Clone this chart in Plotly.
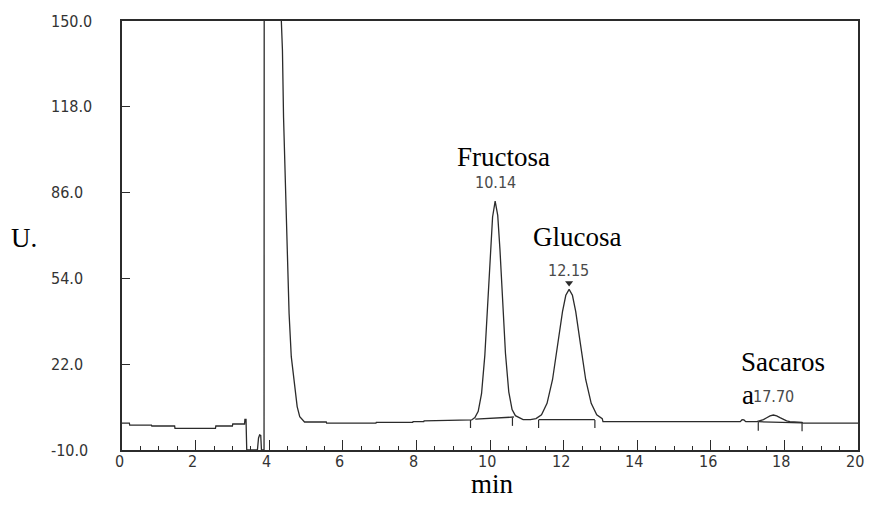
import plotly.graph_objects as go

# Chromatogram signal (retention time in min, detector response in U.)
time_min = [
    0.00, 0.20, 0.21, 0.80, 0.81, 1.43, 1.44, 2.54, 2.55, 3.00, 3.01, 3.33, 3.34, 3.37, 3.39,
    3.68, 3.71, 3.74, 3.77, 3.79, 3.86, 3.87, 4.10, 4.31, 4.33, 4.36, 4.39, 4.44, 4.48, 4.51,
    4.54, 4.60, 4.67, 4.71, 4.76, 4.83, 4.91, 4.96, 5.55, 5.56, 6.90, 6.91, 7.90, 7.91, 8.20,
    8.21, 9.50,
    9.59, 9.68, 9.77, 9.86, 9.95, 10.01, 10.07, 10.14, 10.21, 10.27, 10.33, 10.42, 10.51,
    10.60, 10.69, 10.80, 10.90,
    11.10, 11.25, 11.40, 11.55, 11.70, 11.85, 11.97, 12.06, 12.15, 12.24, 12.33, 12.45, 12.60,
    12.75, 12.90, 13.05, 13.07,
    16.80, 16.85, 16.90, 16.95,
    17.25, 17.34, 17.43, 17.52, 17.61, 17.70, 17.79, 17.88, 17.97, 18.06, 18.15, 18.48, 18.50,
    20.00,
]
signal_u = [
    0.0, 0.0, -0.7, -0.7, -1.05, -1.05, -1.9, -1.9, -1.05, -1.05, -0.3, -0.3, 1.4, 1.4, -10.0,
    -10.0, -5.5, -4.4, -4.6, -10.0, -10.0, 400.0, 600.0, 300.0, 150.0, 139.0, 114.0, 89.6, 64.6, 53.4,
    41.0, 24.8, 17.3, 11.1, 6.2, 2.4, 1.2, 0.45, 0.45, 0.0, 0.0, 0.3, 0.3, 0.6, 0.6,
    0.9, 1.2,
    2.1, 4.4, 11.0, 25.4, 47.8, 64.2, 76.9, 82.8, 77.5, 64.9, 48.5, 26.1, 11.7,
    5.1, 2.8, 2.1, 1.3,
    1.3, 1.7, 3.1, 7.4, 16.3, 30.2, 41.6, 47.7, 49.9, 47.7, 41.6, 30.2, 16.3,
    7.4, 3.1, 1.7, 0.55,
    0.55, 1.3, 1.2, 0.55,
    0.6, 0.84, 1.33, 2.05, 2.75, 3.05, 2.75, 2.05, 1.33, 0.84, 0.6, 0.3, 0.0,
    0.0,
]

# Integration baselines drawn under the peaks
integ_time = [9.60, 10.65, None, 11.32, 12.85, None, 17.30, 18.48]
integ_u = [1.5, 2.3, None, 1.3, 1.3, None, 0.55, 0.1]

# Peak start / end event marks
event_time = [9.47, 9.47, None, 10.61, 10.61, None, 11.32, 11.32, None,
              12.85, 12.85, None, 17.29, 17.29, None, 18.48, 18.48]
event_u = [1.2, -1.8, None, 2.0, -1.0, None, 1.2, -1.8, None,
           1.2, -1.8, None, 0.5, -2.8, None, 0.2, -3.0]

# Peak identifications
peak_names = ["Fructosa", "Glucosa", "Sacaros"]
peak_rt = [10.14, 12.15, 17.70]
peak_rt_labels = ["10.14", "12.15", "17.70"]

# Axis ticks
y_ticks = [-10.0, 22.0, 54.0, 86.0, 118.0, 150.0]
y_tick_labels = ["-10.0", "22.0", "54.0", "86.0", "118.0", "150.0"]
x_ticks = [0, 2, 4, 6, 8, 10, 12, 14, 16, 18, 20]
x_tick_labels = ["0", "2", "4", "6", "8", "10", "12", "14", "16", "18", "20"]

INK = "#2b2b2b"
NARROW = "DejaVu Sans Condensed, Liberation Sans Narrow, sans-serif"
SERIF = "Liberation Serif, Times New Roman, serif"
TICK_SIZE = 16
LABEL_SIZE = 27

fig = go.Figure()
fig.add_trace(go.Scatter(x=time_min, y=signal_u, mode="lines",
                         line=dict(color=INK, width=1.3), hoverinfo="skip"))
fig.add_trace(go.Scatter(x=integ_time, y=integ_u, mode="lines",
                         line=dict(color=INK, width=1.3), hoverinfo="skip"))
fig.add_trace(go.Scatter(x=event_time, y=event_u, mode="lines",
                         line=dict(color=INK, width=1.2), hoverinfo="skip"))
# apex marker on the glucose peak
fig.add_trace(go.Scatter(x=[peak_rt[1]], y=[52.3], mode="markers",
                         marker=dict(symbol="triangle-down", size=7, color=INK),
                         hoverinfo="skip"))

fig.update_layout(
    width=869, height=512,
    margin=dict(l=122, r=11, t=21, b=62),
    paper_bgcolor="white", plot_bgcolor="white",
    showlegend=False,
    xaxis=dict(
        range=[0, 20], tickvals=x_ticks, showticklabels=False,
        automargin=False,
        ticks="inside", ticklen=10, tickwidth=1.2, tickcolor=INK,
        minor=dict(ticks="inside", ticklen=4, dtick=0.5, tickcolor=INK, tickwidth=1),
        showgrid=False, zeroline=False,
        showline=True, mirror=True, linecolor=INK, linewidth=1.5,
    ),
    yaxis=dict(
        range=[-10, 150], tickvals=y_ticks, showticklabels=False,
        automargin=False,
        ticks="inside", ticklen=8, tickwidth=1.2, tickcolor=INK,
        showgrid=False, zeroline=False,
        showline=True, mirror=True, linecolor=INK, linewidth=1.5,
    ),
)

annotations = []
# y tick labels, left-aligned in the margin
for v, lab in zip(y_ticks, y_tick_labels):
    annotations.append(dict(x=-0.0986, xref="paper", y=v, yref="y", text=lab,
                            showarrow=False, xanchor="left", yanchor="middle",
                            font=dict(family=NARROW, size=TICK_SIZE, color="#333333")))
# x tick labels just under the axis
for v, lab in zip(x_ticks, x_tick_labels):
    annotations.append(dict(x=v, xref="x", y=-0.027, yref="paper", text=lab,
                            showarrow=False, xanchor="center", yanchor="middle", xshift=-3,
                            font=dict(family=NARROW, size=TICK_SIZE, color="#333333")))
# axis titles
annotations.append(dict(x=-0.1326, xref="paper", y=0.494, yref="paper", text="U.",
                        showarrow=False, xanchor="center", yanchor="middle",
                        font=dict(family=SERIF, size=LABEL_SIZE, color="black")))
annotations.append(dict(x=0.5037, xref="paper", y=-0.079, yref="paper", text="min",
                        showarrow=False, xanchor="center", yanchor="middle",
                        font=dict(family=SERIF, size=LABEL_SIZE, color="black")))
# peak names
name_pos = [(10.37, 99.3), (12.37, 69.4), (17.96, 22.8)]
for name, (px, py) in zip(peak_names, name_pos):
    annotations.append(dict(x=px, y=py, text=name, showarrow=False,
                            xanchor="center", yanchor="middle",
                            font=dict(family=SERIF, size=LABEL_SIZE, color="black")))
annotations.append(dict(x=17.01, y=10.6, text="a", showarrow=False,
                        xanchor="center", yanchor="middle",
                        font=dict(family=SERIF, size=LABEL_SIZE, color="black")))
# retention times
rt_pos = [(10.15, 89.6), (12.14, 56.8), (17.71, 10.1)]
for lab, (px, py) in zip(peak_rt_labels, rt_pos):
    annotations.append(dict(x=px, y=py, text=lab, showarrow=False,
                            xanchor="center", yanchor="middle",
                            font=dict(family=NARROW, size=TICK_SIZE, color="#4a4a4a")))
fig.update_layout(annotations=annotations)

fig.write_html("out.html")
